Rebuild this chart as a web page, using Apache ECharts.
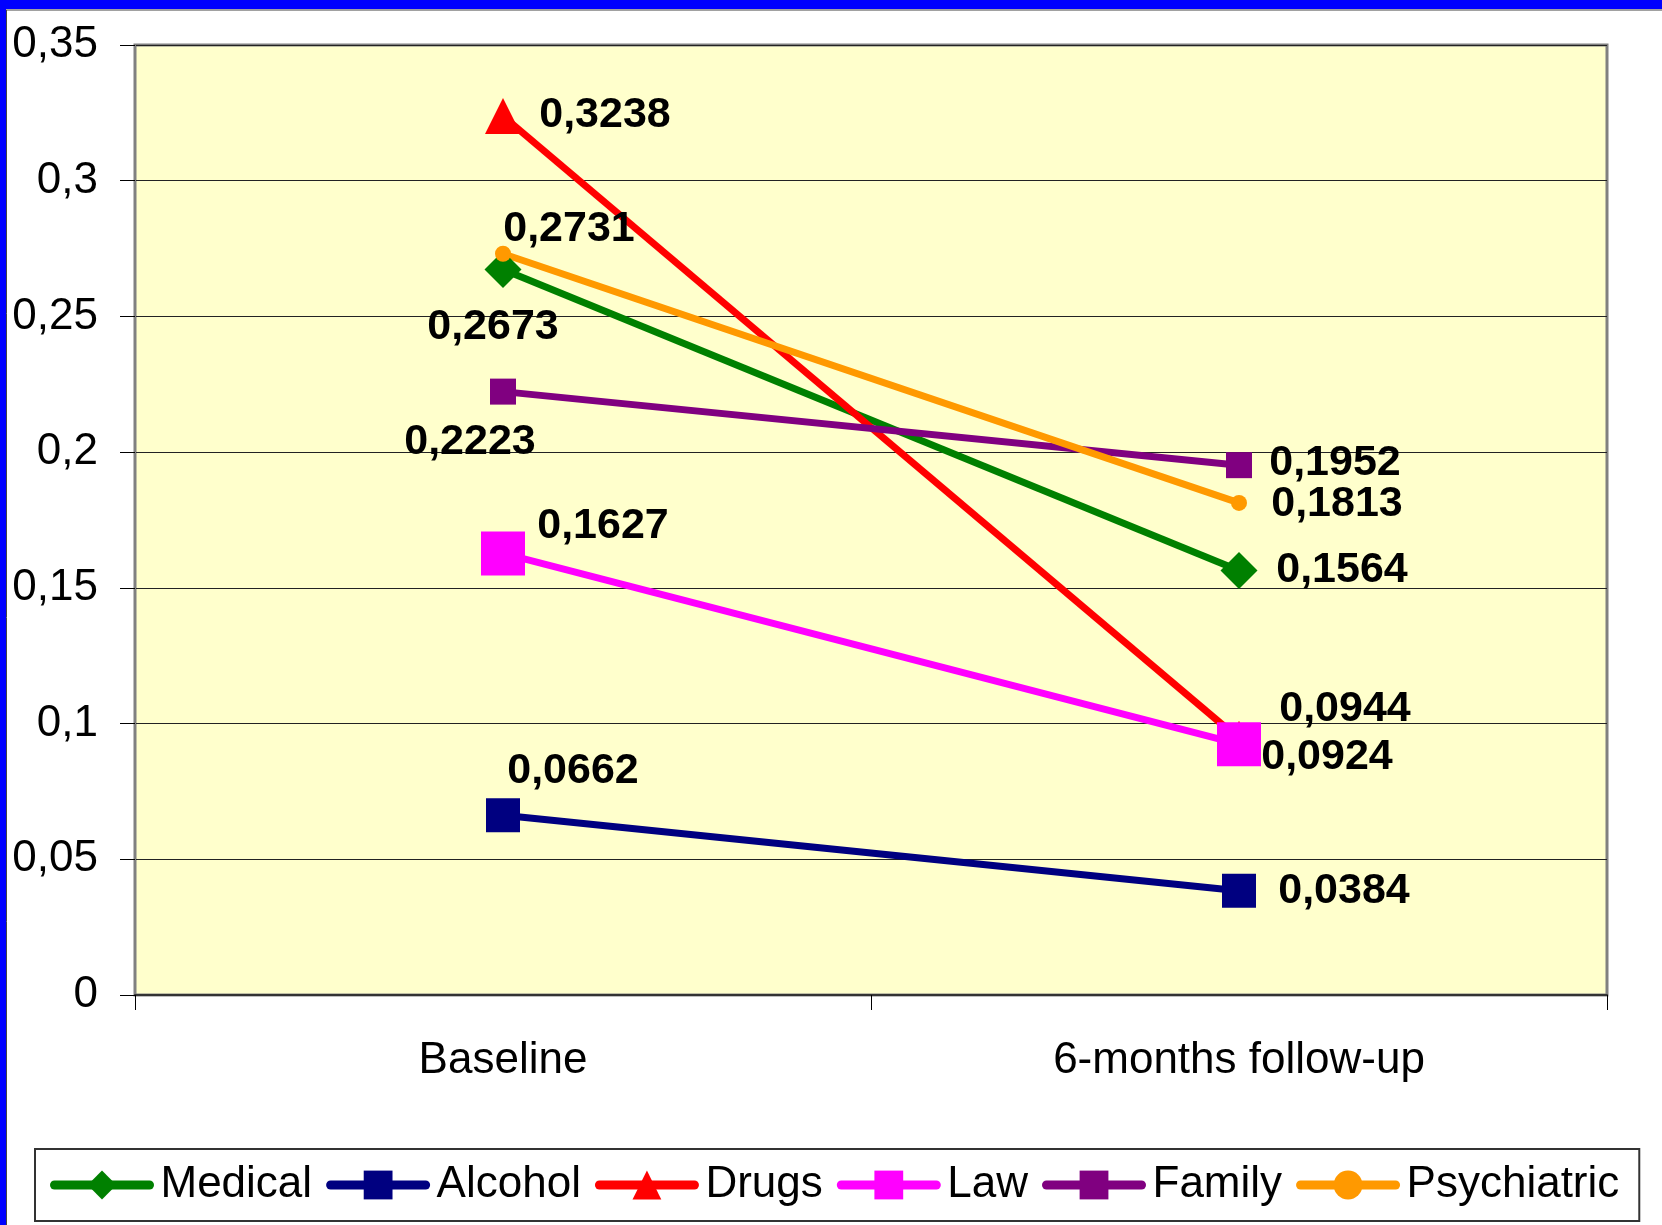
<!DOCTYPE html>
<html>
<head>
<meta charset="utf-8">
<script src="https://cdn.jsdelivr.net/npm/echarts@6/dist/echarts.min.js"></script>
<style>
html,body{margin:0;padding:0;background:#fff;}
#main{width:1662px;height:1225px;}
</style>
</head>
<body>
<div id="main"></div>
<script>
// categories and values
var categories = ['Baseline', '6-months follow-up'];
var medical = [0.2673, 0.1564];
var alcohol = [0.0662, 0.0384];
var drugs = [0.3238, 0.0944];
var law = [0.1627, 0.0924];
var family = [0.2223, 0.1952];
var psychiatric = [0.2731, 0.1813];
var yTicks = [0, 0.05, 0.1, 0.15, 0.2, 0.25, 0.3, 0.35];

// label placement (pixels from the point), kept apart from the data
var labelOffsets = {
    Medical: [[-10, 58], [103, 0]],
    Alcohol: [[70, -44], [105, 0]],
    Drugs: [[102, -1], [106, -30]],
    Law: [[100, -27], [88, 13]],
    Family: [[-33, 51], [96, -2]],
    Psychiatric: [[66, -25], [98, 1]]
};

var font = 'Liberation Sans, Arial, sans-serif';

function fmt(v) {
    return (+v.toFixed(4)).toString().replace('.', ',');
}

function makeSeries(name, values, color, symbol, size) {
    return {
        name: name,
        type: 'line',
        data: values.map(function (v, i) {
            return {value: v, label: {offset: labelOffsets[name][i]}};
        }),
        symbol: symbol,
        symbolSize: size,
        lineStyle: {color: color, width: 7},
        itemStyle: {color: color},
        label: {
            show: true,
            position: 'inside',
            align: 'center',
            verticalAlign: 'middle',
            color: '#000',
            fontFamily: font,
            fontWeight: 'bold',
            fontSize: 43,
            formatter: function (p) { return fmt(p.value); }
        }
    };
}

var chartDom = document.getElementById('main');
var myChart = echarts.init(chartDom);
var option = {
    animation: false,
    backgroundColor: '#fff',
    graphic: [
        {type: 'rect', shape: {x: 0, y: 0, width: 1662, height: 9}, style: {fill: '#0000ff'}, z: 100},
        {type: 'rect', shape: {x: 0, y: 0, width: 6, height: 1225}, style: {fill: '#0000ff'}, z: 100},
        {type: 'line', shape: {x1: 6, y1: 10, x2: 1662, y2: 10}, style: {stroke: '#444', lineWidth: 1}, z: 100},
        {type: 'line', shape: {x1: 6.5, y1: 10, x2: 6.5, y2: 1225}, style: {stroke: '#444', lineWidth: 1}, z: 100}
    ],
    grid: {
        left: 135,
        right: 55,
        top: 45,
        bottom: 230,
        show: true,
        backgroundColor: '#ffffcc',
        borderColor: '#808080',
        borderWidth: 3
    },
    xAxis: {
        type: 'category',
        data: categories,
        boundaryGap: true,
        axisLine: {lineStyle: {color: '#333', width: 2}},
        axisTick: {show: true, length: 15, lineStyle: {color: '#000', width: 1}},
        axisLabel: {color: '#000', fontFamily: font, fontSize: 44, margin: 44}
    },
    yAxis: {
        type: 'value',
        min: 0,
        max: 0.35,
        interval: 0.05,
        axisLine: {show: true, lineStyle: {color: '#808080', width: 2}},
        axisTick: {show: true, length: 15, lineStyle: {color: '#000', width: 1}},
        splitLine: {show: true, lineStyle: {color: '#222', width: 1}},
        axisLabel: {
            color: '#000',
            fontFamily: font,
            fontSize: 44,
            margin: 37,
            formatter: function (v) {
                var t = yTicks.filter(function (x) { return Math.abs(x - v) < 1e-9; })[0];
                return fmt(t === undefined ? v : t);
            }
        }
    },
    legend: {
        left: 35,
        top: 1149,
        width: 1610,
        padding: [14, 20, 14, 15],
        itemWidth: 95,
        itemHeight: 36,
        itemGap: 14,
        borderColor: '#333',
        borderWidth: 2,
        backgroundColor: '#fff',
        lineStyle: {width: 9, cap: 'round'},
        textStyle: {color: '#000', fontFamily: font, fontSize: 44, padding: [0, 0, 0, 6]}
    },
    series: [
        makeSeries('Medical', medical, '#008000', 'diamond', 37),
        makeSeries('Alcohol', alcohol, '#000080', 'rect', 34),
        makeSeries('Drugs', drugs, '#ff0000', 'triangle', 36),
        makeSeries('Law', law, '#ff00ff', 'rect', 44),
        makeSeries('Family', family, '#800080', 'rect', 26),
        makeSeries('Psychiatric', psychiatric, '#ff9900', 'circle', 16)
    ]
};
myChart.setOption(option);
</script>
</body>
</html>
